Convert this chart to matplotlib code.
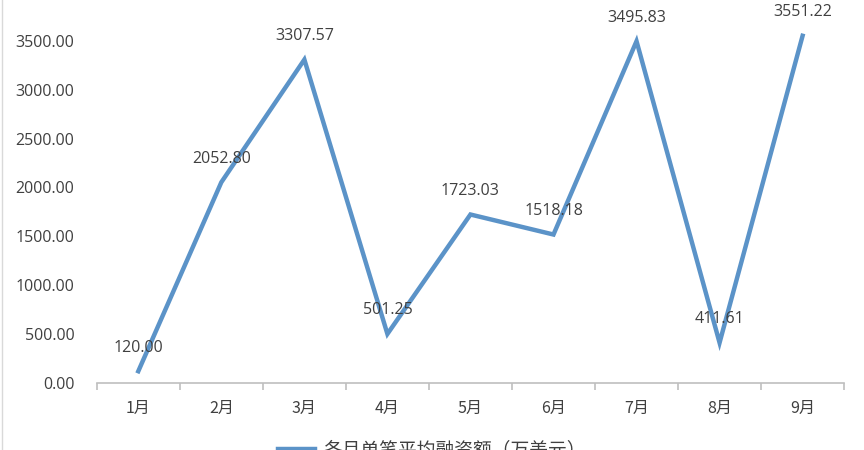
import matplotlib.pyplot as plt
from matplotlib.lines import Line2D

plt.rcParams['font.family'] = ['Noto Sans CJK SC', 'DejaVu Sans']

months = ['1月', '2月', '3月', '4月', '5月', '6月', '7月', '8月', '9月']
avg_amount = [120.00, 2052.80, 3307.57, 501.25, 1723.03, 1518.18, 3495.83, 411.61, 3551.22]
series_name = '各月单笔平均融资额（万美元）'

line_color = '#5B93C8'
text_color = '#404040'

fig = plt.figure(figsize=(8.64, 4.5), dpi=100)
ax = fig.add_axes([0.112, 0.149, 0.865, 0.869])

x = list(range(len(months)))
ax.plot(x, avg_amount, color=line_color, lw=3.2, solid_joinstyle='miter',
        label=series_name)

for xi, v in zip(x, avg_amount):
    ax.annotate('%.2f' % v, (xi, v), xytext=(0, 17), textcoords='offset points',
                ha='center', va='center', fontsize=11.5, color=text_color,
                family=['Open Sans', 'DejaVu Sans'])

ax.set_xlim(-0.5, len(months) - 0.5)
ax.set_ylim(0, 4000)
ax.set_yticks(range(0, 4001, 500))
ax.set_yticklabels(['%.2f' % t for t in range(0, 4001, 500)],
                   family=['Open Sans', 'DejaVu Sans'])
ax.set_xticks(x)
ax.set_xticklabels(months)
ax.set_xticks([i - 0.5 for i in range(len(months) + 1)], minor=True)

for s in ['top', 'right', 'left']:
    ax.spines[s].set_visible(False)
ax.spines['bottom'].set_color('#BFBFBF')
ax.spines['bottom'].set_linewidth(1.2)

ax.tick_params(axis='y', length=0, pad=16, labelsize=11.5, labelcolor=text_color)
ax.tick_params(axis='x', which='major', length=0, pad=12, labelsize=11.5,
               labelcolor=text_color)
ax.tick_params(axis='x', which='minor', length=5, width=1.2, color='#BFBFBF',
               direction='out')

fig.legend(loc='center', bbox_to_anchor=(0.5, 0.0), frameon=False,
           fontsize=13.5, handlelength=2.0, handletextpad=0.45,
           labelcolor=text_color)

fig.add_artist(Line2D([0.002, 0.002], [0, 1], transform=fig.transFigure,
                      color='#D9D9D9', lw=1))

fig.savefig('out.png', dpi=100)
